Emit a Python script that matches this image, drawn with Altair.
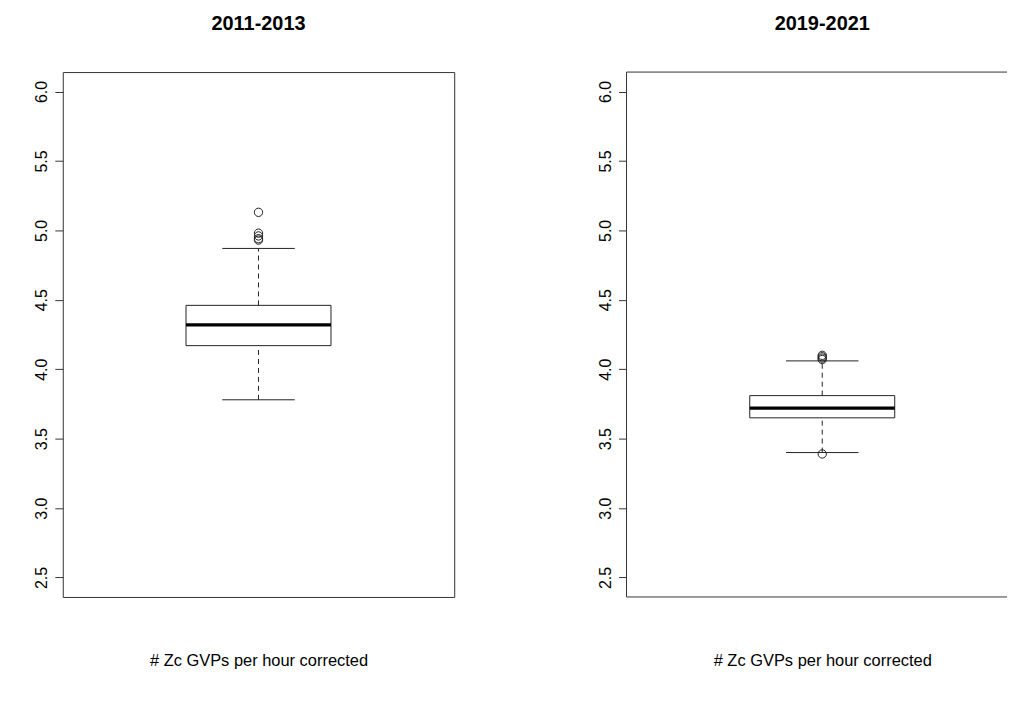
import altair as alt
import pandas as pd

# ---- data ----
periods = ["2011-2013", "2019-2021"]
q1 = [4.17, 3.65]
medians = [4.32, 3.72]
q3 = [4.46, 3.81]
whisk_lo = [3.78, 3.40]
whisk_hi = [4.87, 4.06]
outliers_2011 = [5.13, 4.98, 4.96, 4.94, 4.93]
outliers_2019 = [4.10, 4.09, 4.08, 4.07, 3.39]
outlier_lists = [outliers_2011, outliers_2019]
y_ticks = [2.5, 3.0, 3.5, 4.0, 4.5, 5.0, 5.5, 6.0]
x_label = "# Zc GVPs per hour corrected"

FONT = "Liberation Sans"
BOX_POS = 1.0
BOX_HALF = 0.2
CAP_HALF = 0.1
LINE = "#222222"
FRAME = "#333333"
FULL_W = 393      # full panel width in the original figure
PLOT_H = 527
X_DOMAIN = [0.46, 1.54]


def panel(i, width, clipped=False):
    stats = pd.DataFrame({
        "period": [periods[i]],
        "q1": [q1[i]], "med": [medians[i]], "q3": [q3[i]],
        "wlo": [whisk_lo[i]], "whi": [whisk_hi[i]],
    })
    outs = pd.DataFrame({"period": periods[i], "val": outlier_lists[i]})

    span = X_DOMAIN[1] - X_DOMAIN[0]
    x_end = X_DOMAIN[0] + span * width / FULL_W
    xs = alt.Scale(domain=[X_DOMAIN[0], x_end], nice=False, zero=False)
    ys = alt.Scale(domain=[2.36, 6.14], nice=False, zero=False)
    xa = alt.Axis(title=x_label, labels=False, ticks=False, domain=False, grid=False,
                  titleFontSize=16.5, titleFont=FONT, titleFontWeight="normal",
                  titleColor="black", titlePadding=56,
                  titleX=FULL_W / 2, titleAlign="center")
    ya = alt.Axis(title=None, values=y_ticks, format=".1f", labelAngle=270,
                  labelAlign="center", labelBaseline="bottom", tickSize=8,
                  tickColor=FRAME, domain=False, grid=False, labelFontSize=16,
                  labelFont=FONT, labelColor="black", labelPadding=5,
                  minExtent=54, maxExtent=54)

    base = alt.Chart(stats).transform_calculate(
        pos=f"{BOX_POS}",
        lo=f"{BOX_POS - BOX_HALF}", hi=f"{BOX_POS + BOX_HALF}",
        cl=f"{BOX_POS - CAP_HALF}", ch=f"{BOX_POS + CAP_HALF}",
    )

    box = base.mark_rect(fill="white", stroke=LINE, strokeWidth=1).encode(
        x=alt.X("lo:Q", scale=xs, axis=xa), x2="hi:Q",
        y=alt.Y("q1:Q", scale=ys, axis=ya), y2="q3:Q")
    med = base.mark_rule(color="black", strokeWidth=3.2).encode(
        x=alt.X("lo:Q", scale=xs, axis=xa), x2="hi:Q",
        y=alt.Y("med:Q", scale=ys, axis=ya))
    w_up = base.mark_rule(color=LINE, strokeWidth=1, strokeDash=[5, 4]).encode(
        x=alt.X("pos:Q", scale=xs, axis=xa),
        y=alt.Y("q3:Q", scale=ys, axis=ya), y2="whi:Q")
    w_dn = base.mark_rule(color=LINE, strokeWidth=1, strokeDash=[5, 4]).encode(
        x=alt.X("pos:Q", scale=xs, axis=xa),
        y=alt.Y("wlo:Q", scale=ys, axis=ya), y2="q1:Q")
    cap_up = base.mark_rule(color=LINE, strokeWidth=1).encode(
        x=alt.X("cl:Q", scale=xs, axis=xa), x2="ch:Q",
        y=alt.Y("whi:Q", scale=ys, axis=ya))
    cap_dn = base.mark_rule(color=LINE, strokeWidth=1).encode(
        x=alt.X("cl:Q", scale=xs, axis=xa), x2="ch:Q",
        y=alt.Y("wlo:Q", scale=ys, axis=ya))
    pts = alt.Chart(outs).transform_calculate(pos=f"{BOX_POS}").mark_point(
        shape="circle", filled=False, color=LINE, size=70, strokeWidth=1, opacity=1
    ).encode(
        x=alt.X("pos:Q", scale=xs, axis=xa),
        y=alt.Y("val:Q", scale=ys, axis=ya))

    layers = [box, w_up, w_dn, cap_up, cap_dn, med, pts]
    view = alt.ViewBackground(stroke=FRAME, strokeWidth=1)
    if clipped:
        # frame open on the right: the original figure is cut at the page edge
        view = alt.ViewBackground(stroke="transparent")
        fr = alt.Chart(stats).mark_rule(color=FRAME, strokeWidth=1)
        layers += [
            fr.encode(x=alt.value(0), x2=alt.value(width), y=alt.value(0)),
            fr.encode(x=alt.value(0), x2=alt.value(width), y=alt.value(PLOT_H)),
            fr.encode(x=alt.value(0), y=alt.value(0), y2=alt.value(PLOT_H)),
        ]

    return alt.layer(*layers).properties(
        width=width, height=PLOT_H, view=view,
        title=alt.TitleParams(periods[i], fontSize=20, fontWeight="bold", font=FONT,
                              anchor="middle", frame="group", color="black",
                              offset=38, dx=(FULL_W - width) / 2),
    )


chart = alt.hconcat(panel(0, FULL_W), panel(1, 382, clipped=True), spacing=117).properties(
    padding={"left": 0, "top": 4, "right": 0, "bottom": 0},
    background="white",
)

chart.save("out.html", embed_options={"renderer": "svg", "actions": False})
